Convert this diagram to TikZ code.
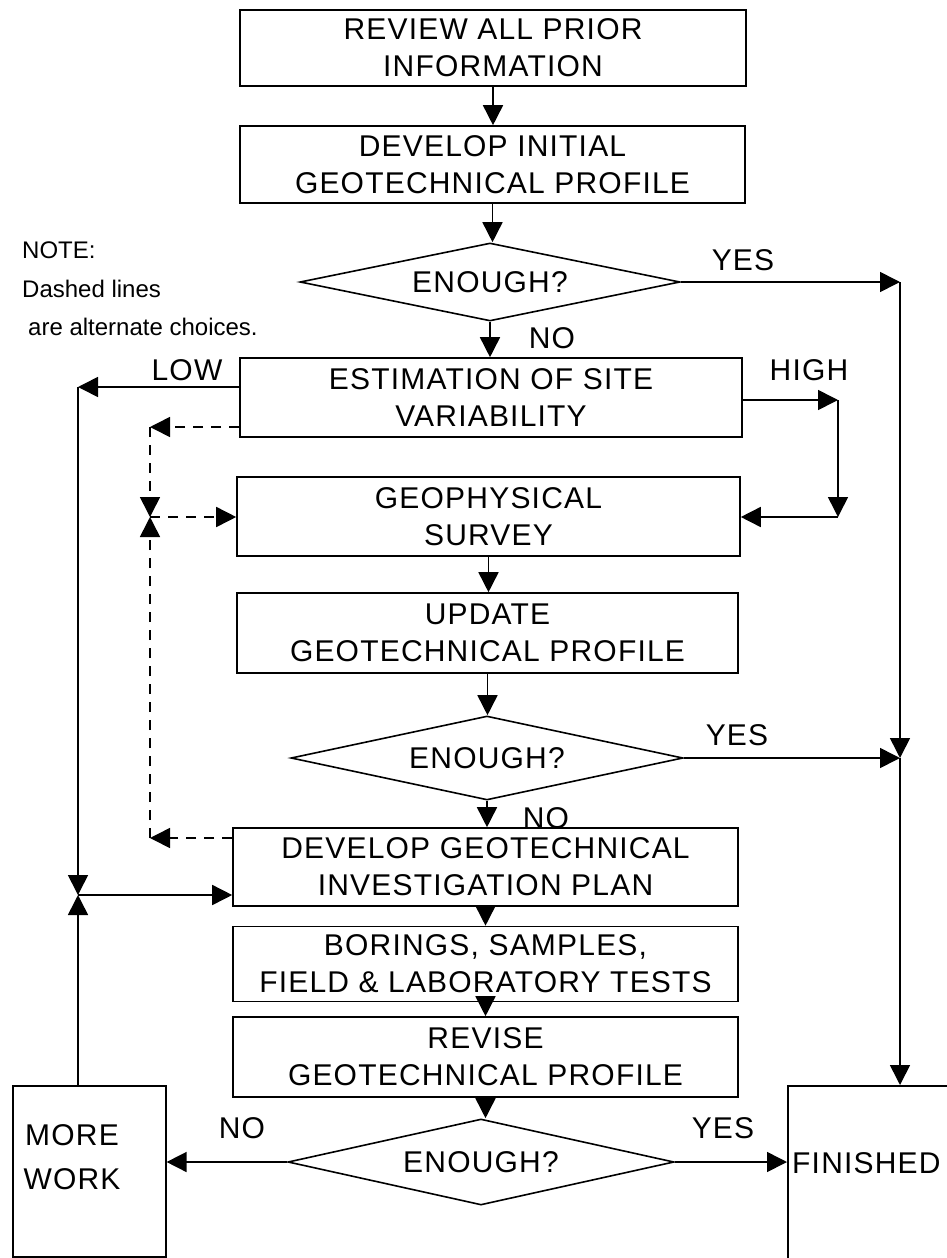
\documentclass[tikz,border=0pt]{standalone}
\usepackage{fontspec}
\setmainfont{Liberation Sans}[LetterSpace=4]
\newfontfamily\notefont{Liberation Sans}
\usetikzlibrary{arrows.meta,shapes.geometric}
\begin{document}
\begin{tikzpicture}[x=1pt,y=-1pt,
  every node/.style={font=\fontsize{30}{37}\selectfont},
  box/.style={draw, line width=1.6pt, align=center, inner sep=2pt},
  dia/.style={diamond, draw, line width=1.6pt, aspect=4.8, inner sep=0pt},
  lbl/.style={inner sep=0pt},
  note/.style={font=\notefont\fontsize{24}{28}\selectfont, anchor=west, inner sep=0pt},
  arr/.style={line width=1.6pt, -{Triangle[length=20pt,width=20pt]}},
  darr/.style={line width=1.6pt, dash pattern=on 10pt off 8pt, -{Triangle[length=20pt,width=20pt]}}]
\useasboundingbox (0,0) rectangle (947,1258);
\fill[white] (0,0) rectangle (947,1258);
\clip (0,0) rectangle (947,1258);

% boxes
\node[box, minimum width=506pt, minimum height=76pt] (b1) at (493,48) {REVIEW ALL PRIOR\\INFORMATION};
\node[box, minimum width=505pt, minimum height=77pt] (b2) at (492.5,164.5) {DEVELOP INITIAL\\GEOTECHNICAL PROFILE};
\node[dia, minimum width=380pt, minimum height=78pt] (d1) at (490,282) {ENOUGH?};
\node[box, minimum width=502pt, minimum height=79pt] (b3) at (491,397.5) {ESTIMATION OF SITE\\VARIABILITY};
\node[box, minimum width=503pt, minimum height=79pt] (b4) at (488.5,516.5) {GEOPHYSICAL\\SURVEY};
\node[box, minimum width=501pt, minimum height=80pt] (b5) at (487.5,633) {UPDATE\\GEOTECHNICAL PROFILE};
\node[dia, minimum width=392pt, minimum height=84pt] (d2) at (487,758) {ENOUGH?};
\node[box, minimum width=505pt, minimum height=78pt] (b6) at (485.5,867) {DEVELOP GEOTECHNICAL\\INVESTIGATION PLAN};
\node[box, minimum width=505pt, minimum height=75pt] (b7) at (485.5,964) {BORINGS, SAMPLES,\\FIELD \& LABORATORY TESTS};
\node[box, minimum width=505pt, minimum height=80pt] (b8) at (485.5,1057) {REVISE\\GEOTECHNICAL PROFILE};
\node[dia, minimum width=386pt, minimum height=86pt] (d3) at (481,1162) {ENOUGH?};
\node[box, minimum width=153pt, minimum height=171pt, anchor=north west] (mw) at (12,1085) {};
\node[align=center, inner sep=0pt] (mwt) at (72,1157) {MORE\\[7pt]WORK};
\node[box, minimum width=220pt, minimum height=240pt, anchor=north west] (fin) at (787,1085) {};
\node[anchor=west, inner sep=0pt] (fint) at (792,1163) {FINISHED};

% note
\node[note] (n1) at (22,250) {NOTE:};
\node[note] (n2) at (22,289) {Dashed lines};
\node[note] (n3) at (28,327) {are alternate choices.};

% labels
\node[lbl] (yes1) at (743,260) {YES};
\node[lbl] (no1) at (552,338) {NO};
\node[lbl] (high) at (809,370) {HIGH};
\node[lbl] (low) at (187,370) {LOW};
\node[lbl] (yes2) at (737,735) {YES};
\node[lbl] (no2) at (546,818) {NO};
\node[lbl] (no3) at (242,1128) {NO};
\node[lbl] (yes3) at (723,1128) {YES};

% junction coordinates
\coordinate (ry1) at (900,282);
\coordinate (ry2) at (900,758);
\coordinate (hc1) at (838,400);
\coordinate (hc2) at (838,517);
\coordinate (lc1) at (78,387);
\coordinate (lc2) at (78,895);
\coordinate (dc1) at (150,427);
\coordinate (dc2) at (150,517);
\coordinate (dc3) at (150,838);

% main flow
\draw[arr] (b1.south) -- (b1.south |- b2.north);
\draw[arr] (b2.south) -- (b2.south |- d1.north);
\draw[arr] (d1.south) -- (d1.south |- b3.north);
\draw[arr] (b4.south) -- (b4.south |- b5.north);
\draw[arr] (b5.south) -- (b5.south |- d2.north);
\draw[arr] (d2.south) -- (d2.south |- b6.north);
\draw[arr] (b6.south) -- (b6.south |- b7.north);
\draw[arr] (b7.south) -- (b7.south |- b8.north);
\draw[arr] (b8.south) -- (b8.south |- d3.north);

% right side
\draw[arr] (d1.east) -- (ry1);
\draw[arr] (ry1) -- (ry2);
\draw[arr] (d2.east) -- (ry2);
\draw[arr] (ry2) -- (ry2 |- fin.north);
\draw[arr] (d3.east) -- (d3.east -| fin.west);

% HIGH
\draw[arr] (b3.east |- hc1) -- (hc1);
\draw[arr] (hc1) -- (hc2);
\draw[arr] (hc2) -- (b4.east |- hc2);

% LOW
\draw[arr] (b3.west |- lc1) -- (lc1);
\draw[arr] (lc1) -- (lc2);
\draw[arr] (lc2 |- mw.north) -- (lc2);
\draw[arr] (lc2) -- (b6.west |- lc2);
\draw[arr] (d3.west) -- (d3.west -| mw.east);

% dashed alternatives
\draw[darr] (b3.west |- dc1) -- (dc1);
\draw[darr] (dc1) -- (dc2);
\draw[darr] (b6.west |- dc3) -- (dc3);
\draw[darr] (dc3) -- (dc2);
\draw[darr] (dc2) -- (b4.west |- dc2);
\end{tikzpicture}
\end{document}
